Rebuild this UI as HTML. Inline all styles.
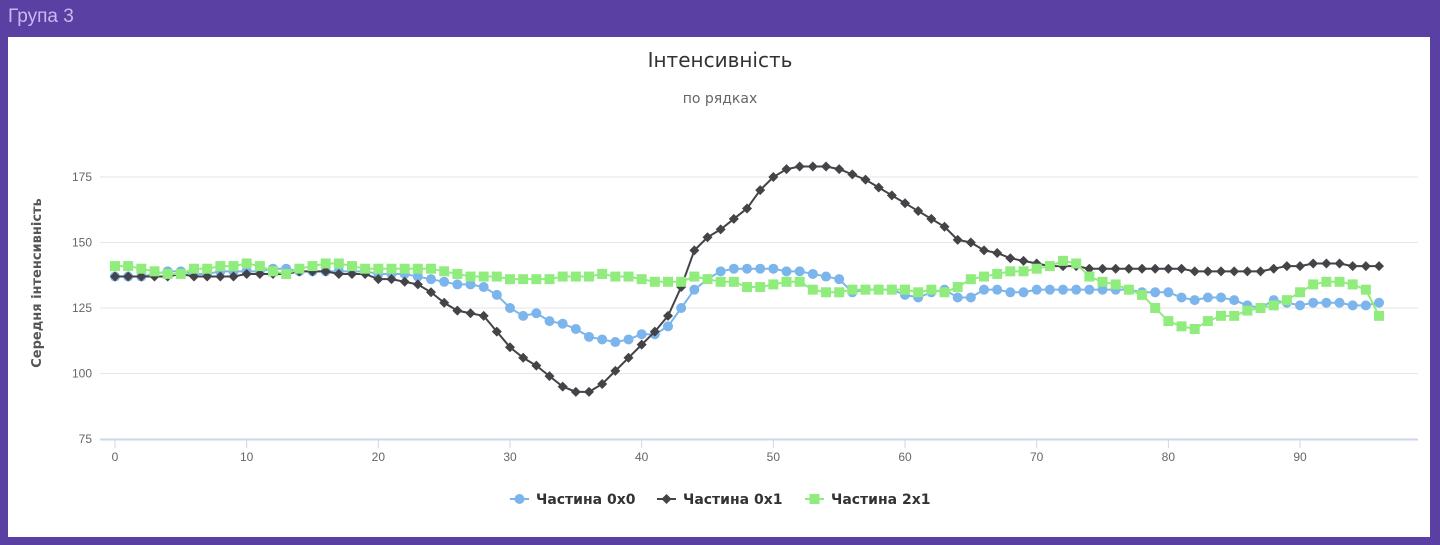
<!DOCTYPE html>
<html><head><meta charset="utf-8">
<style>
body{margin:0;width:1440px;height:545px;background:#5b40a3;overflow:hidden;font-family:"Liberation Sans","DejaVu Sans",sans-serif;position:relative}
#hdr{position:absolute;left:8px;top:6px;color:#c9b9ee;font-size:19px}
#panel{position:absolute;left:8px;top:37px;width:1422px;height:500px;background:#fff}
svg{position:absolute;left:0;top:0}
</style></head><body>
<div id="hdr">Група 3</div>
<div id="panel"></div>
<svg id="chart" width="1440" height="545"></svg>
<script>
const xTicks=[0,10,20,30,40,50,60,70,80,90];
const yTicks=[75,100,125,150,175];
const names=["Частина 0x0","Частина 0x1","Частина 2x1"];
const s0=[137,137,137,138,139,139,138,138,139,139,139,139,140,140,139,139,139,139,139,139,138,138,138,137,136,135,134,134,133,130,125,122,123,120,119,117,114,113,112,113,115,115,118,125,132,136,139,140,140,140,140,139,139,138,137,136,131,132,132,132,130,129,131,132,129,129,132,132,131,131,132,132,132,132,132,132,132,132,131,131,131,129,128,129,129,128,126,125,128,127,126,127,127,127,126,126,127];
const s1=[137,137,137,137,137,138,137,137,137,137,138,138,138,138,139,139,139,138,138,138,136,136,135,134,131,127,124,123,122,116,110,106,103,99,95,93,93,96,101,106,111,116,122,133,147,152,155,159,163,170,175,178,179,179,179,178,176,174,171,168,165,162,159,156,151,150,147,146,144,143,142,141,141,141,140,140,140,140,140,140,140,140,139,139,139,139,139,139,140,141,141,142,142,142,141,141,141];
const s2=[141,141,140,139,138,138,140,140,141,141,142,141,139,138,140,141,142,142,141,140,140,140,140,140,140,139,138,137,137,137,136,136,136,136,137,137,137,138,137,137,136,135,135,135,137,136,135,135,133,133,134,135,135,132,131,131,132,132,132,132,132,131,132,131,133,136,137,138,139,139,140,141,143,142,137,135,134,132,130,125,120,118,117,120,122,122,124,125,126,128,131,134,135,135,134,132,122];
const colors=["#7cb5ec","#434348","#90ed7d"];
const NS="http://www.w3.org/2000/svg";
const svg=document.getElementById('chart');
const X=v=>115+v*13.167, Y=v=>439-(v-75)*2.62;
function mk(t,a,p){const e=document.createElementNS(NS,t);for(const k in a)e.setAttribute(k,a[k]);(p||svg).appendChild(e);return e;}
function tx(x,y,s,a,p){const e=mk('text',Object.assign({x:x,y:y},a),p);e.textContent=s;return e;}
let t=tx(720,67,"Інтенсивність",{'text-anchor':'middle','font-size':20,fill:'#333','font-family':'DejaVu Sans, sans-serif'});


t=tx(720,103,"по рядках",{'text-anchor':'middle','font-size':14,fill:'#666','font-family':'DejaVu Sans, sans-serif'});


t=tx(0,0,"Середня інтенсивність",{'text-anchor':'middle','font-size':13,'font-weight':'bold',fill:'#555','font-family':'DejaVu Sans, sans-serif',transform:'translate(41,283) rotate(-90)'});


yTicks.forEach(v=>{
 if(v>75){const g=mk('line',{x1:100,x2:1418,y1:Y(v),y2:Y(v),stroke:'#e6e6e6'});
 
 }
 const l=tx(92,Y(v)+4,v,{'text-anchor':'end','font-size':12,fill:'#666'});
 
 
});
const ax=mk('line',{x1:100,x2:1418,y1:439.5,y2:439.5,stroke:'#ccd6eb','stroke-width':2});


xTicks.forEach(v=>{
 mk('line',{x1:X(v),x2:X(v),y1:440,y2:448,stroke:'#ccd6eb'});
 const l=tx(X(v),461,v,{'text-anchor':'middle','font-size':12,fill:'#666'});
 
 
});
function marker(i,x,y,g){
 if(i==0)return mk('circle',{cx:x,cy:y,r:5,fill:colors[0]},g);
 if(i==1)return mk('path',{d:`M${x} ${y-5}L${x+5} ${y}L${x} ${y+5}L${x-5} ${y}Z`,fill:colors[1]},g);
 return mk('rect',{x:x-5,y:y-5,width:10,height:10,fill:colors[2]},g);
}
[s0,s1,s2].forEach((s,i)=>{
 const g=mk('g',{});
 
 
 const ln=mk('path',{d:s.map((v,j)=>(j?'L':'M')+X(j)+' '+Y(v)).join(''),fill:'none',stroke:colors[i],'stroke-width':2},g);
 
 
 s.forEach((v,j)=>{const m=marker(i,X(j),Y(v),g);
  
  });
});
const lx=[510,657,805];
names.forEach((n,i)=>{
 const g=mk('g',{});
 
 
 mk('line',{x1:lx[i],x2:lx[i]+19,y1:499,y2:499,stroke:colors[i],'stroke-width':2},g);
 marker(i,lx[i]+9.5,499,g);
 tx(lx[i]+26,504,n,{'font-size':14,'font-weight':'bold',fill:'#333','font-family':'DejaVu Sans, sans-serif'},g);
});
</script>
</body></html>
